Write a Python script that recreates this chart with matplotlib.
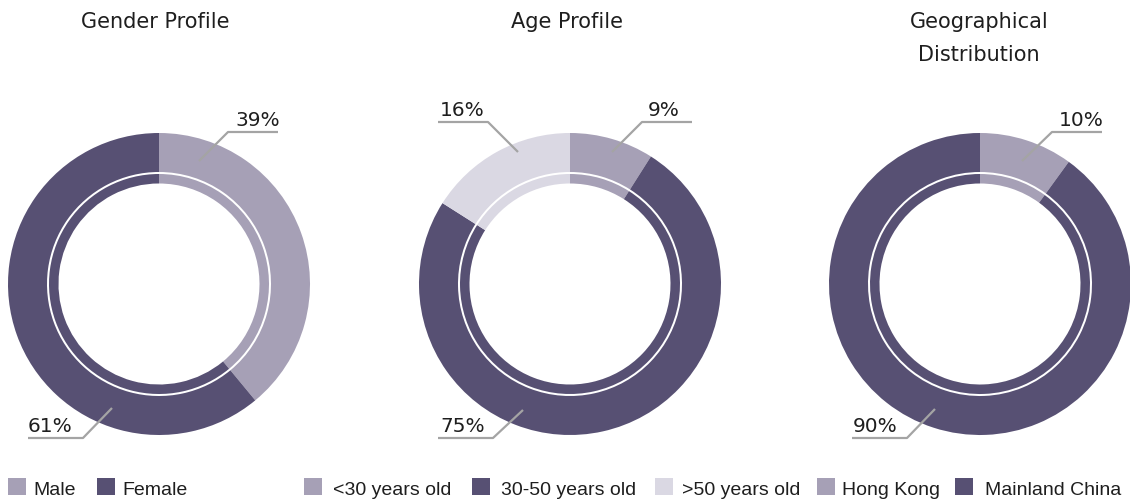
import matplotlib
matplotlib.use('Agg')
import matplotlib.pyplot as plt
import matplotlib.patches as mpatches

# datos
gender_labels = ['Male', 'Female']
gender_values = [39, 61]
age_labels = ['<30 years old', '30-50 years old', '>50 years old']
age_values = [9, 75, 16]
geo_labels = ['Hong Kong', 'Mainland China']
geo_values = [10, 90]
titles = ['Gender Profile', 'Age Profile', 'Geographical\nDistribution']

DARK = '#575073'
LIGHT = '#a6a0b6'
PALE = '#dad8e3'
LINE = '#a4a4a4'
TXT = '#1e1e1e'

W, H = 1130, 501

fig = plt.figure(figsize=(W / 100, H / 100), dpi=100)
ax = fig.add_axes([0, 0, 1, 1])


def py(y):
    # pixel (desde arriba) -> coordenada de datos
    return H - y


charts = [
    (gender_values, [LIGHT, DARK], 159, 155),
    (age_values, [LIGHT, DARK, PALE], 570, 567),
    (geo_values, [LIGHT, DARK], 980, 979),
]

# posiciones de las etiquetas: (x texto, base texto, alineacion, linea guia)
label_layout = [
    [(280, 126, 'right', [(199, 161), (228, 132), (278, 132)]),
     (28, 432, 'left', [(112, 408), (83, 438), (28, 438)])],
    [(680, 116, 'right', [(612, 152), (642, 122), (692, 122)]),
     (440, 432, 'left', [(523, 410), (493, 438), (438, 438)]),
     (440, 116, 'left', [(518, 152), (488, 122), (438, 122)])],
    [(1104, 126, 'right', [(1022, 161), (1052, 132), (1102, 132)]),
     (853, 432, 'left', [(935, 409), (907, 438), (852, 438)])],
]

cy = 284
for (vals, cols, cx, tx), title, layout in zip(charts, titles, label_layout):
    ax.pie(vals, colors=cols, startangle=90, counterclock=False, radius=151,
           center=(cx, py(cy)), wedgeprops=dict(width=39, linewidth=0))
    ax.pie(vals, colors=cols, startangle=90, counterclock=False, radius=110,
           center=(cx, py(cy)), wedgeprops=dict(width=9.5, linewidth=0))
    ax.text(tx, py(12), title, ha='center', va='top', fontsize=15,
            color=TXT, linespacing=1.8, family='DejaVu Sans')
    for v, (lx, ly, ha, pts) in zip(vals, layout):
        ax.plot([p[0] for p in pts], [py(p[1]) for p in pts], color=LINE,
                lw=1.6, solid_capstyle='butt', zorder=5)
        ax.text(lx, py(ly), f'{v}%', ha=ha, va='baseline', fontsize=14.5,
                color=TXT, family='DejaVu Sans', zorder=6)

# leyenda
legend_items = list(zip(gender_labels + age_labels + geo_labels,
                        [LIGHT, DARK, LIGHT, DARK, PALE, LIGHT, DARK]))
legend_x = [8, 97, 304, 472, 655, 817, 955]
text_gap = [25, 25, 29, 29, 27, 25, 30]
for (lab, col), x, g in zip(legend_items, legend_x, text_gap):
    ax.add_patch(mpatches.Rectangle((x, py(495)), 18, 17, color=col, lw=0))
    ax.text(x + g, py(495), lab, ha='left', va='baseline', fontsize=14,
            color=TXT, family='Liberation Sans')

ax.set_xlim(0, W)
ax.set_ylim(0, H)
ax.set_aspect('auto')
ax.axis('off')

fig.savefig('out.png', dpi=100, facecolor='white')
